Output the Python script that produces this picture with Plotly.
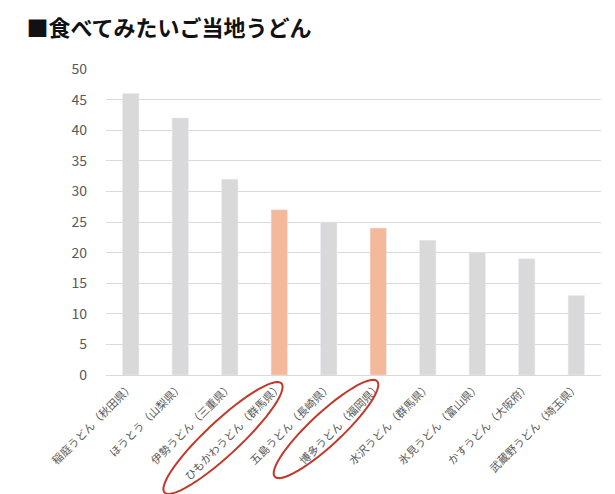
import plotly.graph_objects as go
import numpy as np

categories = ["稲庭うどん（秋田県）", "ほうとう（山梨県）", "伊勢うどん（三重県）", "ひもかわうどん（群馬県）",
              "五島うどん（長崎県）", "博多うどん（福岡県）", "水沢うどん（群馬県）", "氷見うどん（富山県）",
              "かすうどん（大阪府）", "武蔵野うどん（埼玉県）"]
values = [46, 42, 32, 27, 25, 24, 22, 20, 19, 13]
highlight = [False, False, False, True, False, True, False, False, False, False]

W, H = 615, 494
L, R, T, B = 98, 22, 61, 127
pw, ph = W - L - R, H - T - B

def ellipse_path(cx, cy, a, b, ang_deg):
    t = np.linspace(0, 2 * np.pi, 60)
    ang = np.radians(ang_deg)
    xs = cx + a * np.cos(t) * np.cos(ang) - b * np.sin(t) * np.sin(ang)
    ys = cy - (a * np.cos(t) * np.sin(ang) + b * np.sin(t) * np.cos(ang))
    px = (xs - L) / pw
    py = (T + ph - ys) / ph
    return "M " + " L ".join(f"{x:.4f},{y:.4f}" for x, y in zip(px, py)) + " Z"

colors = ["#f4b89a" if h else "#d9d9d9" for h in highlight]
fig = go.Figure(go.Bar(x=categories, y=values, marker_color=colors, width=0.33))
fig.update_layout(
    width=W, height=H, margin=dict(l=L, r=R, t=T, b=B),
    paper_bgcolor="white", plot_bgcolor="white", showlegend=False,
    font=dict(family="Noto Sans CJK JP", color="#595959"),
    title=dict(text="<b>■食べてみたいご当地うどん</b>", x=0.03, y=0.975, xanchor="left", yanchor="top",
               font=dict(size=22, color="#111111", family="Noto Sans CJK JP")),
    yaxis=dict(range=[0, 50], dtick=5, gridcolor="#d9d9d9", tickfont=dict(size=14, color="#595959"),
               zeroline=False, ticks="", ticklabelstandoff=18),
    xaxis=dict(tickangle=-45, tickfont=dict(size=11, color="#595959"), showline=True,
               linecolor="#d9d9d9", ticks=""),
    shapes=[
        dict(type="path", xref="paper", yref="paper", path=ellipse_path(215, 430, 80, 17, 43),
             line=dict(color="#c0392b", width=2)),
        dict(type="path", xref="paper", yref="paper", path=ellipse_path(318, 421, 70, 16, 43),
             line=dict(color="#c0392b", width=2)),
    ],
)
fig.write_html("out.html")
